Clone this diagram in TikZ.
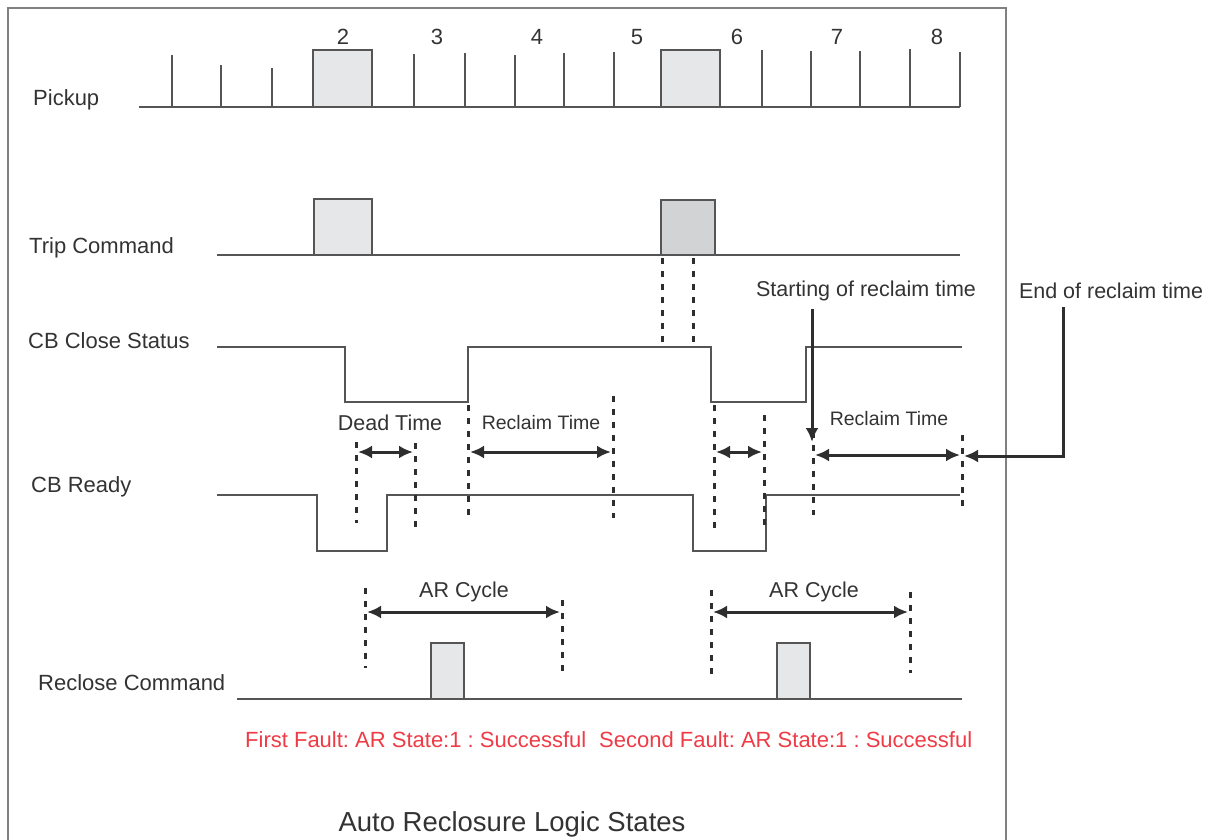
\documentclass[tikz,border=0pt]{standalone}
\usepackage{fontspec}
\setmainfont{Liberation Sans}
\usetikzlibrary{arrows.meta}
\definecolor{sigc}{HTML}{555555}
\definecolor{framec}{HTML}{808080}
\definecolor{boxfill}{HTML}{E6E7E8}
\definecolor{boxdark}{HTML}{D1D3D4}
\definecolor{txtc}{HTML}{333333}
\definecolor{arrc}{HTML}{2E2E2E}
\definecolor{redtxt}{HTML}{EE3B45}
\frenchspacing
\tikzset{
	rowlabel/.style={anchor=west,inner sep=0pt,text=txtc,font=\fontsize{22}{26}\selectfont},
	note/.style={inner sep=0pt,text=txtc,font=\fontsize{21.5}{25}\selectfont},
	smallnote/.style={inner sep=0pt,text=txtc,font=\fontsize{19.5}{23}\selectfont},
	faultnote/.style={anchor=west,inner sep=0pt,text=redtxt,font=\fontsize{22}{26}\selectfont},
}

\begin{document}
\begin{tikzpicture}[x=1pt,y=-1pt,
	wave/.style={draw=sigc,line width=1.2pt},
	pulse/.style={draw=sigc,line width=1.2pt,fill=boxfill},
	dots/.style={draw=arrc,line width=3pt,dash pattern=on 6pt off 7pt},
	dim/.style={draw=arrc,line width=3pt,{Latex[length=14pt,width=13pt]}-{Latex[length=14pt,width=13pt]}},
	callout/.style={draw=arrc,line width=3pt,-{Latex[length=14pt,width=13pt]}}]
	\useasboundingbox (0,0) rectangle (1224,840);
	\draw[draw=framec,line width=1.3pt] (8,860) -- (8,8) -- (1006,8) -- (1006,860);

	% pickup
	\draw[wave] (139,107) -- (960,107);
	\foreach \x/\t in {172/55,221/65,272/68,414/54,465/53,515/55,564/53,614/52,762/50,811/51,860/51,910/49,960/52}{
		\draw[wave] (\x,107) -- (\x,\t);
	}
	\filldraw[pulse] (313,107) rectangle (372,50);
	\filldraw[pulse] (661,107) rectangle (720,50);
	\foreach \n/\x in {2/343,3/437,4/537,5/637,6/737,7/837,8/937}{
		\node[rowlabel,anchor=center] (num\n) at (\x,37) {\n};
	}
	\node[rowlabel] (pickup) at (33,100) {Pickup};

	% trip command
	\draw[wave] (217,255) -- (960,255);
	\filldraw[pulse] (314,255) rectangle (372,199);
	\filldraw[pulse,fill=boxdark] (661,255) rectangle (715,200);
	\node[rowlabel] (trip) at (29,248) {Trip Command};

	% cb close status
	\draw[wave] (217,347) -- (345,347) -- (345,402) -- (468,402) -- (468,347) -- (711,347)
		-- (711,402) -- (806,402) -- (806,347) -- (962,347);
	\node[rowlabel] (cbclose) at (28,341) {CB Close Status};

	% cb ready
	\draw[wave] (217,495) -- (317,495) -- (317,551) -- (387,551) -- (387,495) -- (693,495)
		-- (693,551) -- (766,551) -- (766,495) -- (960,495);
	\node[rowlabel] (cbready) at (31,487) {CB Ready};

	% reclose command
	\draw[wave] (237,699) -- (962,699);
	\filldraw[pulse] (431,699) rectangle (464,643);
	\filldraw[pulse] (777,699) rectangle (810,643);
	\node[rowlabel] (reclose) at (38,683) {Reclose Command};

	% time marks
	\foreach \x/\a/\b in {662/258/342,693/258/342,356/442/523,415/443/527,468/405/517,613/396/518,
		714/405/528,764/415/530,813/432/515,962/435/508,365/588/668,562/600/672,711/590/675,910/592/673}{
		\draw[dots] (\x,\a) -- (\x,\b);
	}
	\draw[dim] (358,452) -- (413,452);
	\draw[dim] (470,452) -- (611,452);
	\draw[dim] (716,452) -- (762,452);
	\draw[dim] (815,455) -- (960,455);
	\draw[dim] (367,612) -- (560,612);
	\draw[dim] (713,612) -- (908,612);
	\node[note] (dead) at (390,423) {Dead Time};
	\node[smallnote] (reclaima) at (541,423) {Reclaim Time};
	\node[smallnote] (reclaimb) at (889,419) {Reclaim Time};
	\node[note] (cyclea) at (464,592) {AR Cycle};
	\node[note] (cycleb) at (814,592) {AR Cycle};

	% reclaim callouts
	\node[note] (startrc) at (866,291) {Starting of reclaim time};
	\node[note] (endrc) at (1111,291) {End of reclaim time};
	\coordinate (rcstart) at (812,442);
	\coordinate (rcbend) at (1063,456);
	\coordinate (rcend) at (964,456);
	\draw[callout] ([yshift=-8pt]startrc.south -| rcstart) -- (rcstart);
	\draw[callout] ([yshift=-8pt]endrc.south -| rcbend) -- (rcbend) -- (rcend);

	% results
	\node[faultnote] (first) at (245,740) {First Fault: AR State:1 : Successful};
	\node[faultnote] (second) at (599,740) {Second Fault: AR State:1 : Successful};
	\node[inner sep=0pt,text=txtc,font=\fontsize{27.5}{32}\selectfont] (title) at (512,824) {Auto Reclosure Logic States};
\end{tikzpicture}
\end{document}
